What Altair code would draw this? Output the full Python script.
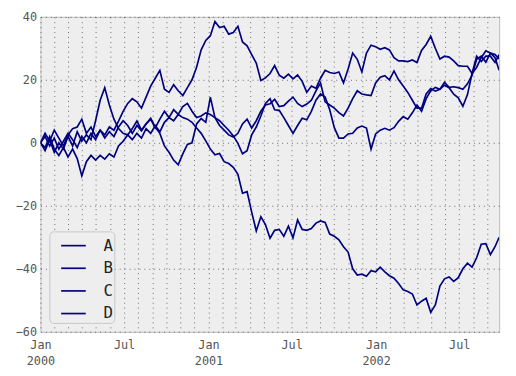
import altair as alt
import pandas as pd

# Four random-walk style series, every 10 days (last point = day 999)
series_names = ["A", "B", "C", "D"]

vals_a = [0, 2, -1, 1.5, -2, 0.5, 3, 1, -1.5, 2,
          0, 3, 1, 4, 2.5, 5, 4, 6.9, 10, 12.5,
          14, 13, 11, 14.5, 18, 20.5, 23, 17, 16, 18.4,
          16.5, 15, 17.5, 20, 24, 29.5, 32.5, 34, 38.5, 36.6,
          37, 34.5, 35, 37, 32, 30.8, 28, 25.3, 19.8, 20.6,
          22, 24.5, 21.5, 20.5, 21.8, 20.3, 21.5, 19.5, 16, 18,
          17.3, 20.5, 23, 22.3, 22, 22.5, 19, 23.4, 28.5, 26.5,
          22.5, 28.5, 31, 30.5, 29.7, 30.2, 29.5, 27, 26, 26,
          25.8, 26.3, 25.5, 29.3, 31.2, 33.8, 30, 26.6, 27.5, 27.2,
          26, 24.5, 24.3, 24.3, 22, 24, 27, 29.2, 28.5, 27,
          23]

vals_b = [0, -2.5, 1, -3, 0, -2, 2, -1, 3.5, 0.5,
          2.5, 1, 7, 13.5, 17.5, 12, 7.5, 4.5, 3, 2.5,
          4.5, 6.9, 4, 6, 7.5, 4.7, 7.5, 10, 8, 10.5,
          9, 11.5, 12.5, 10, 8, 8.5, 9.5, 9, 8, 5.5,
          4, 2.5, 1.8, 3, 6, 7.5, 4.7, 7, 10, 12,
          12.4, 13.8, 11.5, 11.8, 13.2, 14.5, 12.5, 11.5, 12.3, 13.5,
          16.5, 19, 13, 12, 11, 9.6, 8.5, 11, 14, 16.5,
          15.5, 15.2, 15, 19, 20.8, 21.3, 20, 22.8, 20, 18,
          16, 13.5, 11, 11, 15.5, 17.2, 16.4, 17, 18.3, 17.5,
          15.4, 14.3, 11.6, 15.3, 22, 27.5, 25.8, 27.5, 27.5, 25.5,
          28]

vals_c = [0, 3, 0.5, 4, 1.5, -1, 2.5, 4.5, 5, 7.5,
          3, 5, 2, 4, 1.5, 3.5, 2, 5, 7, 5.5,
          3, 5.5, 3.8, 6, 7.8, 5, 3, -1, -3, -5.5,
          -7, -3.5, -0.5, 0, 6, 7.7, 6.5, 14.5, 8, 7,
          5.5, 4, 2.2, -0.2, -3.5, -2.5, 2.5, 5, 8.5, 12.5,
          14, 10.5, 10.3, 8, 5.5, 3, 5.5, 7.8, 7.3, 10,
          13.5, 15.5, 14.5, 10.5, 4.8, 1.5, 1.5, 2.8, 3, 4.7,
          5.3, 4.7, -2, 2.8, 4, 4.6, 4, 4.8, 6.8, 8.3,
          7.5, 9.5, 12, 10, 14, 16.5, 17.6, 17, 19.2, 17.6,
          17.8, 17.5, 17, 18.7, 21.5, 26.5, 27.5, 25.6, 28.5, 28,
          26.6]

vals_d = [0, -1.5, 2, -2, -4, -1.5, -4.5, -2, -5, -10.5,
          -6, -4, -5.5, -4, -5.2, -3.5, -4.5, -1, 0.5, 2.5,
          1, 3, 1.5, 4.5, 3, 5.5, 3.5, 6.5, 8, 7,
          9, 8, 7.5, 6.5, 4.7, 3, 0.6, -2, -3.8, -3.4,
          -6, -6.6, -7.8, -10, -16, -15.5, -22, -28, -23.5, -26,
          -30.3, -27.8, -27.5, -29.7, -26.5, -30.2, -24.5, -27.5, -27.8, -27.2,
          -25.5, -24.8, -25.3, -29, -29.7, -30.8, -33, -34.7, -40, -42,
          -41.7, -42.4, -40.6, -41, -39.5, -41, -42.2, -43, -44.7, -46.7,
          -47.2, -48, -51.5, -50.3, -49.4, -53.8, -51.5, -45.5, -43.2, -42.6,
          -44, -42.8, -40, -38.2, -39.5, -36.5, -32.2, -32, -35.5, -33,
          -30]

day_offsets = list(range(0, 1000, 10)) + [999]
start = pd.Timestamp("2000-01-01")
dates = [(start + pd.Timedelta(days=d)).strftime("%Y-%m-%dT00:00:00Z") for d in day_offsets]

rows = []
for name, vals in zip(series_names, [vals_a, vals_b, vals_c, vals_d]):
    for dt, v in zip(dates, vals):
        rows.append({"date": dt, "value": v, "series": name})
df = pd.DataFrame(rows)

month_ticks = []
for y in (2000, 2001, 2002):
    for m in range(1, 13):
        if y == 2002 and m > 9:
            break
        month_ticks.append(alt.DateTime(year=y, month=m, date=1, utc=True))

label_expr = ("utcmonth(datum.value) == 0 ? [utcFormat(datum.value, '%b'), utcFormat(datum.value, '%Y')] : "
              "(utcmonth(datum.value) == 6 ? utcFormat(datum.value, '%b') : '')")

font = "DejaVu Sans Mono"

chart = alt.Chart(df).mark_line(strokeWidth=1.7, clip=True).encode(
    x=alt.X("date:T",
            scale=alt.Scale(type="utc", nice=False,
                            domain=[alt.DateTime(year=2000, month=1, date=1, utc=True),
                                    alt.DateTime(year=2002, month=9, date=26, utc=True)]),
            axis=alt.Axis(title=None, values=month_ticks, labelExpr=label_expr,
                          grid=True, gridDash=[1, 4], gridColor="#333333", gridOpacity=0.7,
                          ticks=False, domain=False, labelFont=font, labelFontSize=12,
                          labelColor="#555555", labelPadding=8, labelOverlap=False,
                          labelBound=False, labelFlush=False, labelLineHeight=16,
                          labelBaseline="top")),
    y=alt.Y("value:Q",
            scale=alt.Scale(domain=[-60, 40], nice=False, zero=False),
            axis=alt.Axis(title=None, values=[-60, -40, -20, 0, 20, 40], grid=True,
                          gridDash=[1, 4], gridColor="#333333", gridOpacity=0.7,
                          ticks=False, domain=False, labelFont=font, labelFontSize=12,
                          labelColor="#555555", labelPadding=4)),
    color=alt.Color("series:N",
                    scale=alt.Scale(domain=series_names, range=["#000080"] * 4),
                    legend=alt.Legend(title=None, orient="none", legendX=9, legendY=218,
                                      symbolType="stroke", symbolSize=625,
                                      symbolStrokeWidth=1.7, symbolOffset=10,
                                      labelFont=font, labelFontSize=16,
                                      labelFontWeight="normal", labelColor="#222222",
                                      labelExpr="datum.label",
                                      fillColor="#EEEEEE", strokeColor="#C8C8C8",
                                      cornerRadius=4, padding=1, rowPadding=1,
                                      labelOffset=17)),
).properties(
    width=466, height=320,
    autosize=alt.AutoSizeParams(type="none"),
    padding={"left": 33, "top": 6, "right": 9, "bottom": 42},
).configure_view(fill="#EEEEEE", stroke="#BCBCBC", strokeWidth=1)

chart.save("out.html", embed_options={"renderer": "svg", "actions": False})
